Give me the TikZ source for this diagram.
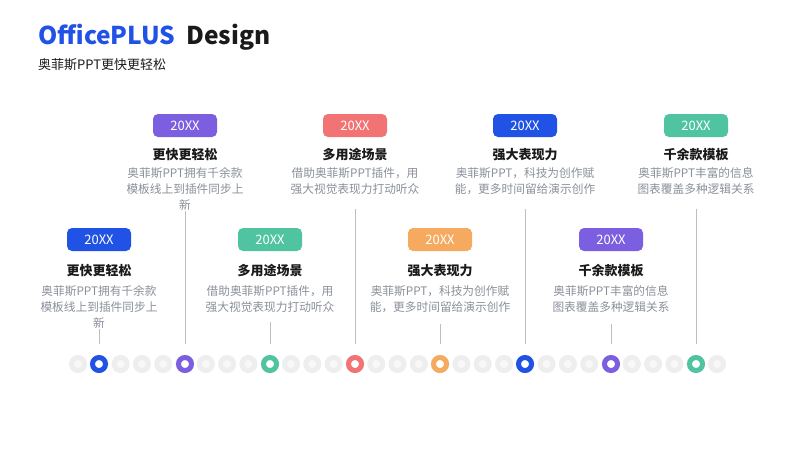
\documentclass[tikz,border=0pt]{standalone}
\usepackage{fontspec}
\setmainfont{Noto Sans CJK SC}
\definecolor{cblue}{RGB}{33,82,230}
\definecolor{cpurple}{RGB}{124,95,224}
\definecolor{cgreen}{RGB}{80,196,160}
\definecolor{cred}{RGB}{242,115,115}
\definecolor{corange}{RGB}{245,170,95}
\definecolor{titlec}{RGB}{26,26,26}
\definecolor{descc}{RGB}{138,144,154}
\definecolor{linec}{RGB}{190,190,190}
\definecolor{ringc}{RGB}{238,238,238}
\definecolor{holec}{RGB}{248,248,248}
\begin{document}
\begin{tikzpicture}[x=1pt,y=-1pt,
  badge/.style={rounded corners=5pt, minimum width=64pt, minimum height=23pt, inner sep=0pt, text=white, font=\fontsize{13}{13}\selectfont},
  ttl/.style={font=\fontsize{13}{13}\selectfont\bfseries, text=titlec, anchor=base, inner sep=0pt},
  desc/.style={font=\fontsize{11.7}{16}\selectfont, text=descc, align=center, anchor=base, inner sep=0pt},
  link/.style={draw=linec, line width=1pt},
  dot/.style={circle, inner sep=0pt, minimum size=13pt, line width=5pt, fill=white},
  gdot/.style={circle, inner sep=0pt, minimum size=13pt, line width=5pt, draw=ringc, fill=holec}]
\fill[white] (0,0) rectangle (800,450);
\useasboundingbox (0,0) rectangle (800,450);
% header
\node[anchor=base west, inner sep=0pt, font=\fontsize{24.5}{24.5}\selectfont\bfseries, text=cblue] (brand) at (38,44) {OfficePLUS};
\node[anchor=base west, inner sep=0pt, font=\fontsize{24.5}{24.5}\selectfont\bfseries, text=titlec] (design) at (186,44) {Design};
\node[anchor=base west, inner sep=0pt, font=\fontsize{13}{13}\selectfont, text=titlec] (sub) at (38,69) {奥菲斯PPT更快更轻松};
% gray dots
\foreach \i in {0,...,30}{
  \node[gdot] (g\i) at ({78+\i*21.3},364) {};
}
% items: index, x, row(0 lower,1 upper), colour, title, desc, line start, number of desc lines
\foreach \n/\x/\up/\c/\t/\d/\ls/\nl in {
  1/99/0/cblue/更快更轻松/{奥菲斯PPT拥有千余款\\模板线上到插件同步上\\新}/329/3,
  2/185/1/cpurple/更快更轻松/{奥菲斯PPT拥有千余款\\模板线上到插件同步上\\新}/211/3,
  3/270/0/cgreen/多用途场景/{借助奥菲斯PPT插件，用\\强大视觉表现力打动听众}/322/2,
  4/355/1/cred/多用途场景/{借助奥菲斯PPT插件，用\\强大视觉表现力打动听众}/209/2,
  5/440/0/corange/强大表现力/{奥菲斯PPT，科技为创作赋\\能，更多时间留给演示创作}/324/2,
  6/525/1/cblue/强大表现力/{奥菲斯PPT，科技为创作赋\\能，更多时间留给演示创作}/209/2,
  7/611/0/cpurple/千余款模板/{奥菲斯PPT丰富的信息\\图表覆盖多种逻辑关系}/324/2,
  8/696/1/cgreen/千余款模板/{奥菲斯PPT丰富的信息\\图表覆盖多种逻辑关系}/209/2}{
  \pgfmathsetmacro{\yb}{\up==1 ? 125.5 : 239.5}
  \pgfmathsetmacro{\yt}{\up==1 ? 159 : 275.5}
  \pgfmathsetmacro{\yd}{(\up==1 ? 177 : 295) + 16*(\nl-1)}
  \node[badge, fill=\c] (b\n) at (\x,\yb) {20XX};
  \node[ttl] (t\n) at (\x,\yt) {\t};
  \node[desc] (d\n) at (\x,\yd) {\d};
  \node[dot, draw=\c] (c\n) at (\x,364) {};
  \coordinate (s\n) at (\x,\ls);
  \draw[link] (s\n) -- (c\n.north |- 0,344);
}
\end{tikzpicture}
\end{document}
